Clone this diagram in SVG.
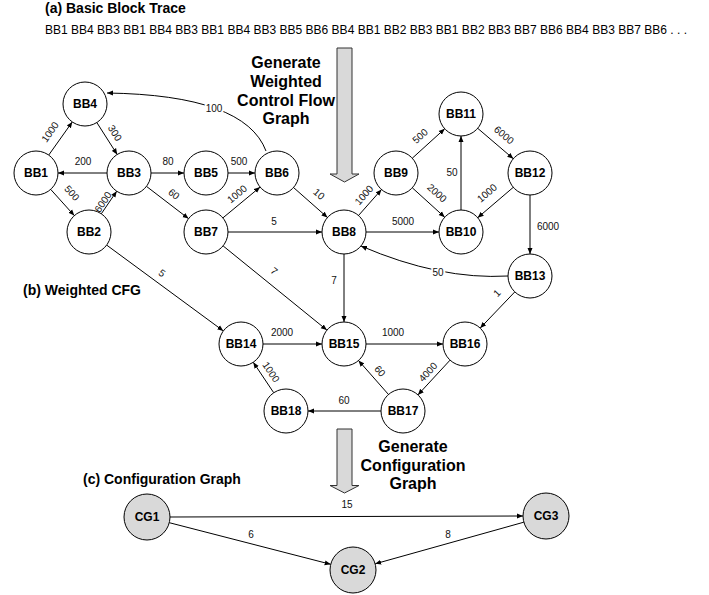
<svg xmlns="http://www.w3.org/2000/svg" width="709" height="595" viewBox="0 0 709 595">
<style>
text{font-family:"Liberation Sans",Arial,sans-serif;fill:#000}
.title{font-size:14px;font-weight:bold}
.big{font-size:16px;font-weight:bold;text-anchor:middle}
.trace{font-size:12px}
.node circle{fill:#fff;stroke:#000;stroke-width:1}
.cg circle{fill:#d9d9d9;stroke:#000;stroke-width:1}
.node text,.cg text{font-size:12px;font-weight:bold;text-anchor:middle;dominant-baseline:central}
.e{stroke:#000;stroke-width:1;fill:none;marker-end:url(#ah)}
.lbl{font-size:10px;text-anchor:middle;dominant-baseline:central;fill:#111}
.lblw{font-size:10px;text-anchor:middle;dominant-baseline:central;fill:#111;stroke:#fff;stroke-width:4;paint-order:stroke}
.bigarrow{fill:#d9d9d9;stroke:#333;stroke-width:1}
</style>
<defs>
<marker id="ah" markerWidth="7" markerHeight="6" refX="6" refY="3" orient="auto" markerUnits="userSpaceOnUse">
<path d="M0,0.5 L6,3 L0,5.5 Z" fill="#000"/>
</marker>
</defs>
<rect width="709" height="595" fill="#fff"/>

<text class="title" x="45" y="13">(a) Basic Block Trace</text>
<text class="trace" x="45" y="34" textLength="642" lengthAdjust="spacingAndGlyphs">BB1 BB4 BB3 BB1 BB4 BB3 BB1 BB4 BB3 BB5 BB6 BB4 BB1 BB2 BB3 BB1 BB2 BB3 BB7 BB6 BB4 BB3 BB7 BB6 . . .</text>

<g id="arrow-top">
<polygon class="bigarrow" points="337,48 352,48 352,174 359,174 344.5,182 330,174 337,174"/>
<text class="big" x="286" y="68">Generate</text>
<text class="big" x="286" y="87">Weighted</text>
<text class="big" x="286" y="106">Control Flow</text>
<text class="big" x="286" y="124">Graph</text>
</g>

<text class="title" x="23" y="295">(b) Weighted CFG</text>

<g id="edges">
<line class="e" x1="48.7" y1="155.1" x2="72.3" y2="121.9"/>
<line class="e" x1="96.8" y1="122.5" x2="117.2" y2="154.5"/>
<line class="e" x1="107" y1="173" x2="58" y2="173"/>
<line class="e" x1="50.7" y1="189.4" x2="74.3" y2="215.6"/>
<line class="e" x1="101.3" y1="213.8" x2="116.7" y2="191.2"/>
<line class="e" x1="151" y1="173" x2="184" y2="173"/>
<line class="e" x1="228" y1="173" x2="255" y2="173"/>
<path class="e" d="M266,151 Q245,95 107,93"/>
<line class="e" x1="146.5" y1="186.4" x2="188.5" y2="218.6"/>
<line class="e" x1="222.9" y1="217.9" x2="260.1" y2="187.1"/>
<line class="e" x1="293.5" y1="187.5" x2="327.5" y2="217.5"/>
<line class="e" x1="228" y1="232" x2="322" y2="232"/>
<line class="e" x1="358.5" y1="215.5" x2="381.5" y2="189.5"/>
<line class="e" x1="412.3" y1="158.2" x2="444.7" y2="128.8"/>
<line class="e" x1="412.3" y1="187.8" x2="444.7" y2="217.2"/>
<line class="e" x1="366" y1="232" x2="439" y2="232"/>
<line class="e" x1="461" y1="210" x2="461" y2="136"/>
<line class="e" x1="477.7" y1="128.3" x2="513.3" y2="158.7"/>
<line class="e" x1="513.3" y1="187.3" x2="477.7" y2="217.7"/>
<line class="e" x1="530" y1="195" x2="530" y2="254"/>
<path class="e" d="M508,276 Q440,280 361,246"/>
<line class="e" x1="514.8" y1="291.9" x2="480.2" y2="328.1"/>
<line class="e" x1="106.7" y1="245.1" x2="223.3" y2="330.9"/>
<line class="e" x1="223.1" y1="245.9" x2="326.9" y2="330.1"/>
<line class="e" x1="344" y1="254" x2="344" y2="322"/>
<line class="e" x1="263" y1="344" x2="322" y2="344"/>
<line class="e" x1="366" y1="344" x2="443" y2="344"/>
<line class="e" x1="450.1" y1="360.1" x2="417.9" y2="394.9"/>
<line class="e" x1="388.5" y1="394.5" x2="358.5" y2="360.5"/>
<line class="e" x1="381" y1="411" x2="308" y2="411"/>
<line class="e" x1="273.7" y1="392.7" x2="253.3" y2="362.3"/>
<line class="e" x1="170" y1="517" x2="523" y2="516"/>
<line class="e" x1="169.3" y1="522.7" x2="330.7" y2="564.3"/>
<line class="e" x1="523.8" y1="522.2" x2="375.2" y2="563.8"/>

<text class="lbl" transform="translate(50,132) rotate(-54.6)">1000</text>
<text class="lbl" transform="translate(115,133) rotate(57.5)">300</text>
<text class="lbl" x="83" y="161">200</text>
<text class="lbl" transform="translate(72,193) rotate(48)">500</text>
<text class="lbl" transform="translate(103,202) rotate(-56)">6000</text>
<text class="lbl" x="168" y="161">80</text>
<text class="lbl" x="239" y="161">500</text>
<text class="lblw" x="214" y="108">100</text>
<text class="lbl" transform="translate(174,194) rotate(37.5)">60</text>
<text class="lbl" transform="translate(237,194) rotate(-39.7)">1000</text>
<text class="lbl" transform="translate(319,194) rotate(41)">10</text>
<text class="lbl" x="274" y="221">5</text>
<text class="lbl" transform="translate(364,195) rotate(-48.6)">1000</text>
<text class="lbl" transform="translate(420,136) rotate(-42)">500</text>
<text class="lbl" transform="translate(437,193) rotate(42)">2000</text>
<text class="lbl" x="403" y="221">5000</text>
<text class="lbl" x="452" y="172">50</text>
<text class="lbl" transform="translate(504,135) rotate(40.5)">6000</text>
<text class="lbl" transform="translate(487,193) rotate(-40.5)">1000</text>
<text class="lbl" x="548" y="226">6000</text>
<text class="lblw" x="438" y="272">50</text>
<text class="lbl" transform="translate(497,293) rotate(-46)">1</text>
<text class="lbl" transform="translate(162,273) rotate(36.4)">5</text>
<text class="lbl" transform="translate(274,271) rotate(39)">7</text>
<text class="lbl" x="334" y="280">7</text>
<text class="lbl" x="282" y="332">2000</text>
<text class="lbl" x="393" y="332">1000</text>
<text class="lbl" transform="translate(428,372) rotate(-47)">4000</text>
<text class="lbl" transform="translate(380,371) rotate(48.6)">60</text>
<text class="lbl" x="344" y="400">60</text>
<text class="lbl" transform="translate(271,372) rotate(56)">1000</text>
<text class="lbl" x="347" y="504">15</text>
<text class="lbl" x="251" y="534">6</text>
<text class="lbl" x="448" y="534">8</text>
</g>

<g id="BB1" class="node"><circle cx="36" cy="173" r="22"/><text x="36" y="173">BB1</text></g>
<g id="BB2" class="node"><circle cx="89" cy="232" r="22"/><text x="89" y="232">BB2</text></g>
<g id="BB3" class="node"><circle cx="129" cy="173" r="22"/><text x="129" y="173">BB3</text></g>
<g id="BB4" class="node"><circle cx="85" cy="104" r="22"/><text x="85" y="104">BB4</text></g>
<g id="BB5" class="node"><circle cx="206" cy="173" r="22"/><text x="206" y="173">BB5</text></g>
<g id="BB6" class="node"><circle cx="277" cy="173" r="22"/><text x="277" y="173">BB6</text></g>
<g id="BB7" class="node"><circle cx="206" cy="232" r="22"/><text x="206" y="232">BB7</text></g>
<g id="BB8" class="node"><circle cx="344" cy="232" r="22"/><text x="344" y="232">BB8</text></g>
<g id="BB9" class="node"><circle cx="396" cy="173" r="22"/><text x="396" y="173">BB9</text></g>
<g id="BB10" class="node"><circle cx="461" cy="232" r="22"/><text x="461" y="232">BB10</text></g>
<g id="BB11" class="node"><circle cx="461" cy="114" r="22"/><text x="461" y="114">BB11</text></g>
<g id="BB12" class="node"><circle cx="530" cy="173" r="22"/><text x="530" y="173">BB12</text></g>
<g id="BB13" class="node"><circle cx="530" cy="276" r="22"/><text x="530" y="276">BB13</text></g>
<g id="BB14" class="node"><circle cx="241" cy="344" r="22"/><text x="241" y="344">BB14</text></g>
<g id="BB15" class="node"><circle cx="344" cy="344" r="22"/><text x="344" y="344">BB15</text></g>
<g id="BB16" class="node"><circle cx="465" cy="344" r="22"/><text x="465" y="344">BB16</text></g>
<g id="BB17" class="node"><circle cx="403" cy="411" r="22"/><text x="403" y="411">BB17</text></g>
<g id="BB18" class="node"><circle cx="286" cy="411" r="22"/><text x="286" y="411">BB18</text></g>

<g id="arrow-bottom">
<polygon class="bigarrow" points="337,429 352,429 352,485.5 359,485.5 344.5,493 330,485.5 337,485.5"/>
<text class="big" x="413" y="452">Generate</text>
<text class="big" x="413" y="471">Configuration</text>
<text class="big" x="413" y="489">Graph</text>
</g>

<text class="title" x="83" y="484">(c) Configuration Graph</text>

<g id="CG1" class="cg"><circle cx="147" cy="517" r="23"/><text x="147" y="517">CG1</text></g>
<g id="CG2" class="cg"><circle cx="353" cy="570" r="23"/><text x="353" y="570">CG2</text></g>
<g id="CG3" class="cg"><circle cx="546" cy="516" r="23"/><text x="546" y="516">CG3</text></g>
</svg>
